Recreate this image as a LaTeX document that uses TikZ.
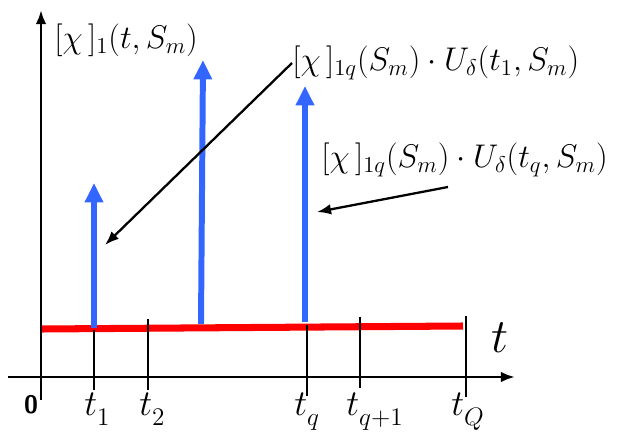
\documentclass[tikz,border=0pt]{standalone}
\usepackage{amsmath}
\usetikzlibrary{arrows.meta}
\definecolor{pulseblue}{RGB}{51,102,255}
\definecolor{levelred}{RGB}{255,0,0}
\newcommand{\tlow}[2]{#1_{\raisebox{-0.12em}{$\scriptstyle #2$}}}
\begin{document}
\begin{tikzpicture}[x=0.02cm,y=-0.02cm,
  axis/.style={line width=1.5pt,-{Latex[length=8pt,width=6pt]}},
  tick/.style={line width=1.1pt},
  impulse/.style={line width=3.4pt,draw=pulseblue,-{Triangle[length=11pt,width=10pt,fill=pulseblue]}},
  pointer/.style={line width=1.3pt,-{Latex[length=8pt,width=6pt]}},
  lbl/.style={font=\LARGE,scale=1.08,inner sep=0pt},
  tlbl/.style={font=\huge,inner sep=0pt,anchor=base west}]
	\useasboundingbox (0,0) rectangle (623,439);
	% axes
	\coordinate (O1) at (8,377);
	\coordinate (O2) at (515,377);
	\coordinate (V1) at (41,400);
	\coordinate (V2) at (41,10);
	\draw[axis] (O1) -- (O2);
	\draw[axis] (V1) -- (V2);
	% level line
	\coordinate (R1) at (42,329);
	\coordinate (R2) at (463,326);
	\draw[line width=4pt, levelred] (R1) -- (R2);
	% ticks
	\coordinate (A1) at (94,330);  \coordinate (A2) at (94,390);
	\coordinate (B1) at (148,319); \coordinate (B2) at (148,390);
	\coordinate (C1) at (307,325); \coordinate (C2) at (307,396);
	\coordinate (D1) at (360,317); \coordinate (D2) at (360,388);
	\coordinate (E1) at (466,316); \coordinate (E2) at (466,397);
	\draw[tick] (A1) -- (A2);
	\draw[tick] (B1) -- (B2);
	\draw[tick] (C1) -- (C2);
	\draw[tick] (D1) -- (D2);
	\draw[tick] (E1) -- (E2);
	% impulses
	\coordinate (P1) at (94,328);  \coordinate (Q1) at (94,183);
	\coordinate (P2) at (201,324); \coordinate (Q2) at (203,60);
	\coordinate (P3) at (305,322); \coordinate (Q3) at (305,86);
	\draw[impulse] (P1) -- (Q1);
	\draw[impulse] (P2) -- (Q2);
	\draw[impulse] (P3) -- (Q3);
	% labels
	\node[lbl, anchor=west] (Y)  at (54,40) {$[\chi\,]_{1}(t,S_{m})$};
	\node[lbl, anchor=west] (L1) at (292,63) {$[\chi\,]_{1q}(S_{m})\cdot U_{\delta}(t_{1},S_{m})$};
	\node[lbl, anchor=west] (L2) at (321,160) {$[\chi\,]_{1q}(S_{m})\cdot U_{\delta}(t_{q},S_{m})$};
	\coordinate (K1) at (105,245);
	\coordinate (K2) at (317,212);
	\coordinate (M2) at (448,187);
	\draw[pointer] (L1.west) -- (K1);
	\draw[pointer] (M2) -- (K2);
	\node[font=\sffamily\bfseries\Large, anchor=base] (Z) at (31,414) {0};
	\node[tlbl] (T1) at (84,416) {$\tlow{t}{1}$};
	\node[tlbl] (T2) at (139,416) {$\tlow{t}{2}$};
	\node[tlbl] (TQ) at (294,416) {$\tlow{t}{q}$};
	\node[tlbl] (TQ1) at (346,416) {$\tlow{t}{q+1}$};
	\node[tlbl] (TQQ) at (451,416) {$\tlow{t}{Q}$};
	\node[font=\Huge, scale=1.1, anchor=base] (T) at (500,353) {$t$};
\end{tikzpicture}
\end{document}
